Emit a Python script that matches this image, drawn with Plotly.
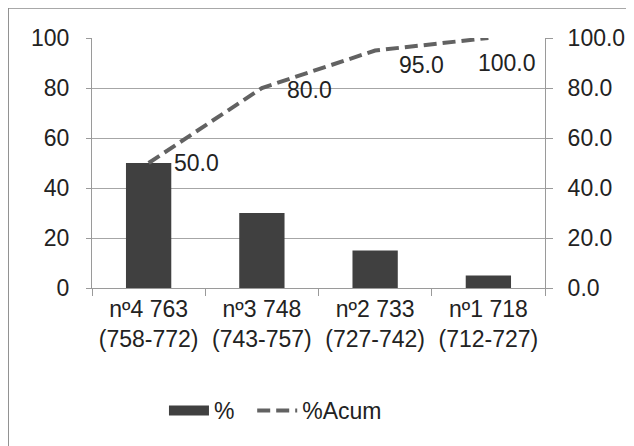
import plotly.graph_objects as go

categories = ["nº4 763<br>(758-772)", "nº3 748<br>(743-757)", "nº2 733<br>(727-742)", "nº1 718<br>(712-727)"]
pct = [50, 30, 15, 5]
pct_acum = [50.0, 80.0, 95.0, 100.0]
left_ticks = [0, 20, 40, 60, 80, 100]

FONT = "Liberation Sans"
TXT = "#222222"
FS = 23
BAR_COLOR = "#404040"

fig = go.Figure()
fig.add_trace(go.Bar(x=categories, y=pct, name="%", marker=dict(color=BAR_COLOR, line=dict(width=0)),
                     yaxis="y", showlegend=False, legendgroup="pct"))
# legend-only entry giving the wide rectangular swatch of the bar series
fig.add_trace(go.Scatter(x=[None], y=[None], name="%&nbsp;&nbsp;", mode="lines", legendgroup="pct",
                         line=dict(color=BAR_COLOR, width=13)))
fig.add_trace(go.Scatter(x=categories, y=pct_acum, name="%Acum", mode="lines",
                         line=dict(color="#626262", width=4, dash="13px,6px"), yaxis="y2"))

# data labels (label offsets in px relative to point)
offsets = [(23, 0), (23, -2), (22, -14), (19, -25)]
anchors = ["left", "left", "left", "center"]
for c, v, (dx, dy), a in zip(categories, pct_acum, offsets, anchors):
    fig.add_annotation(x=c, y=v, yref="y2", text=f"{v:.1f}", showarrow=False,
                       xanchor=a, xshift=dx, yshift=dy,
                       font=dict(family=FONT, size=FS, color=TXT))

fig.update_layout(
    width=634, height=446,
    margin=dict(l=84, r=97, t=30, b=166),
    paper_bgcolor="white", plot_bgcolor="white",
    bargap=0.6,
    font=dict(family=FONT, size=FS, color=TXT),
    showlegend=True,
    legend=dict(orientation="h", x=0.405, y=-0.49, xanchor="center", yanchor="middle",
                font=dict(family=FONT, size=FS, color=TXT), itemwidth=40),
    xaxis=dict(type="category", showline=True, linecolor="#9a9a9a", linewidth=1,
               ticks="outside", tickson="boundaries", ticklen=7, tickcolor="#9a9a9a",
               showgrid=False, tickfont=dict(family=FONT, size=FS, color=TXT)),
    yaxis=dict(range=[0, 100], tickvals=left_ticks, showgrid=True, gridcolor="#a6a6a6", gridwidth=1,
               showline=True, linecolor="#9a9a9a", ticks="outside", ticklen=5, tickcolor="#9a9a9a",
               ticklabelstandoff=12,
               zeroline=False, tickfont=dict(family=FONT, size=FS, color=TXT)),
    yaxis2=dict(range=[0, 100], tickvals=left_ticks, tickformat=".1f", overlaying="y", side="right",
                showgrid=False, showline=True, linecolor="#9a9a9a", ticks="outside", ticklen=7,
                ticklabelstandoff=10,
                tickcolor="#9a9a9a", zeroline=False, tickfont=dict(family=FONT, size=FS, color=TXT)),
    shapes=[dict(type="rect", xref="paper", yref="paper", x0=-0.185, x1=1.25, y0=-0.72, y1=1.12,
                 line=dict(color="#8c8c8c", width=1.5), fillcolor="rgba(0,0,0,0)", layer="below")],
)

fig.write_html("out.html")
